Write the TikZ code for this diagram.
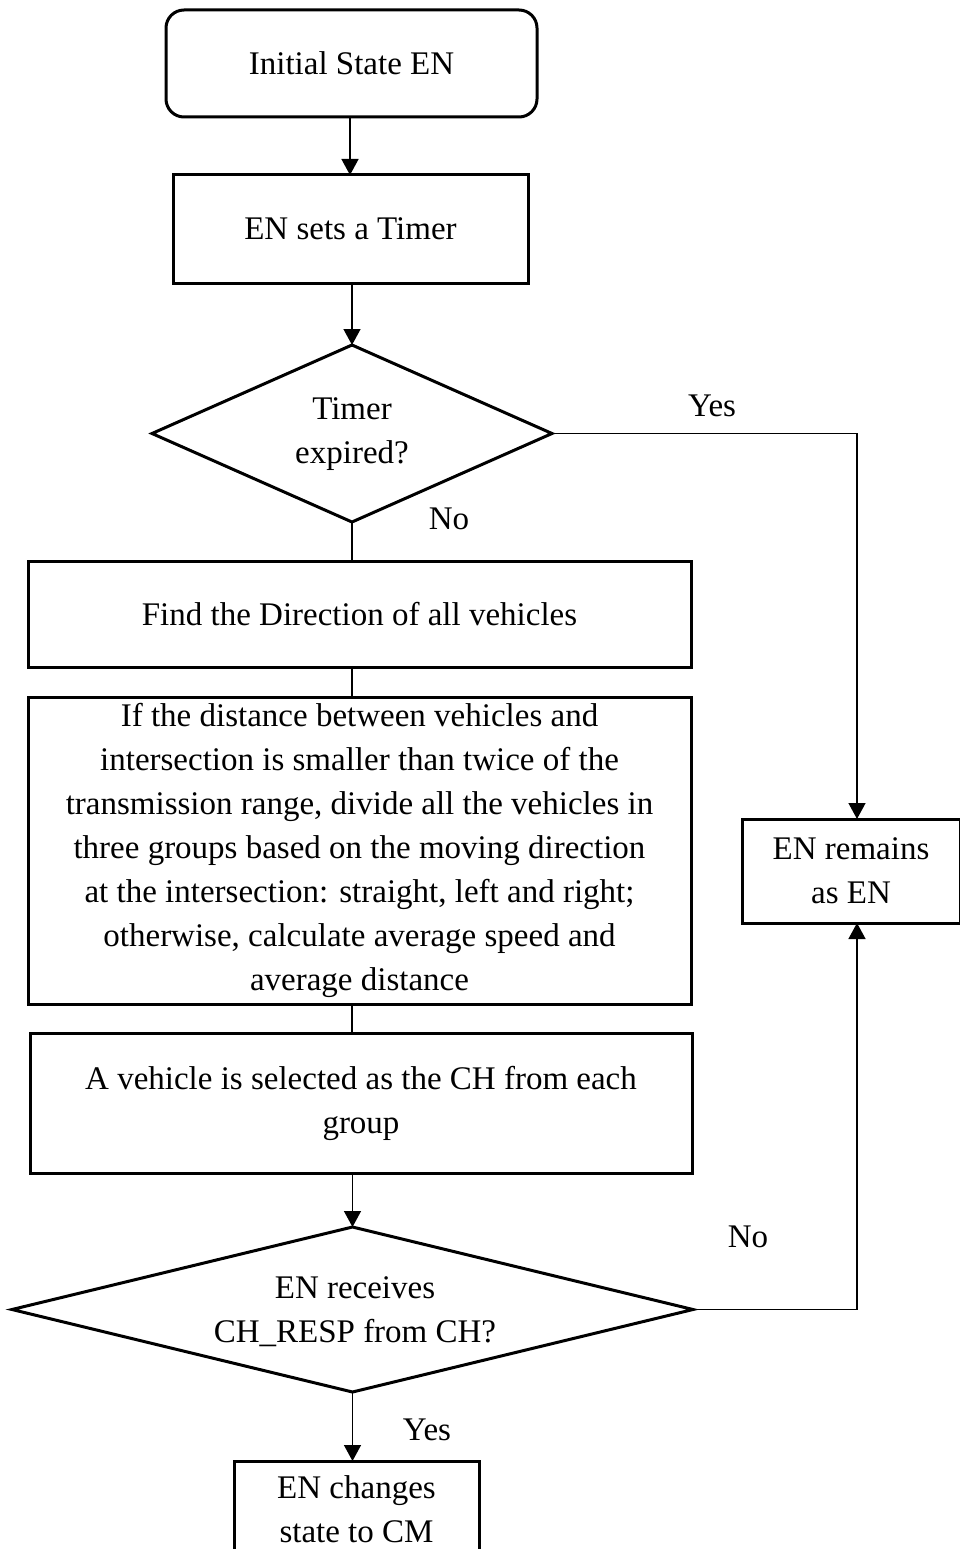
\documentclass[tikz,border=0pt]{standalone}
\usepackage{fontspec}
\setmainfont{Liberation Serif}
\usetikzlibrary{shapes.geometric,arrows.meta}
\begin{document}
\begin{tikzpicture}[x=1pt,y=-1pt,
  every node/.style={font=\fontsize{33}{44}\selectfont, align=center, inner sep=0pt, outer sep=0pt},
  boxst/.style={draw, line width=3pt, rectangle},
  decst/.style={draw, line width=3pt, diamond},
  conn/.style={line width=1.4pt},
  arr/.style={conn, -{Triangle[length=16pt,width=17pt]}},
  lab/.style={font=\fontsize{33}{44}\selectfont}]
\useasboundingbox (0,0) rectangle (960,1549);
\begin{scope}
\clip (0,0) rectangle (960,1549);
\node[boxst, rounded corners=18pt, minimum width=371pt, minimum height=107pt] (init) at (351.5,63.5) {Initial State EN};
\node[boxst, minimum width=355pt, minimum height=108pt] (timer) at (350.5,229) {EN sets a Timer};
\node[decst, minimum width=400pt, minimum height=177pt] (d1) at (352,433.5) {};
\node (d1t) at (352,434) {Timer\\expired?};
\node[boxst, minimum width=663pt, minimum height=106pt] (find) at (359.5,614) {Find the Direction of all vehicles};
\node[boxst, minimum width=663pt, minimum height=307pt] (big) at (359.5,850.5) {If the distance between vehicles and\\intersection is smaller than twice of the\\transmission range, divide all the vehicles in\\three groups based on the moving direction\\at the intersection: straight, left and right;\\otherwise, calculate average speed and\\average distance};
\node[boxst, minimum width=662pt, minimum height=140pt] (veh) at (361,1103) {A vehicle is selected as the CH from each\\group};
\node[decst, minimum width=681pt, minimum height=165pt] (d2) at (352.5,1309.5) {};
\node (d2t) at (355,1312) {EN receives\\CH\_RESP from CH?};
\node[boxst, minimum width=218pt, minimum height=104pt] (remain) at (851,871) {EN remains\\as EN};
\node[boxst, minimum width=245pt, minimum height=96pt] (final) at (356.5,1509) {EN changes\\state to CM};

\draw[arr] (init.south -| 350,0) -- (timer.north -| 350,0);
\draw[arr] (timer.south -| 352,0) -- (d1.north);
\draw[conn] (d1.south) -- (find.north -| d1.south);
\draw[conn] (find.south -| d1.south) -- (big.north -| d1.south);
\draw[conn] (big.south -| d1.south) -- (veh.north -| d1.south);
\draw[arr] (veh.south -| d2.north) -- (d2.north);
\draw[arr] (d2.south) -- (final.north -| d2.south);
\draw[arr] (d1.east) -| ([xshift=6pt]remain.north);
\draw[arr] (d2.east) -| ([xshift=6pt]remain.south);

\node[lab] (yes1) at (712,406) {Yes};
\node[lab] (no1) at (449,519) {No};
\node[lab] (no2) at (748,1237) {No};
\node[lab] (yes2) at (427,1430) {Yes};
\end{scope}
\end{tikzpicture}
\end{document}
